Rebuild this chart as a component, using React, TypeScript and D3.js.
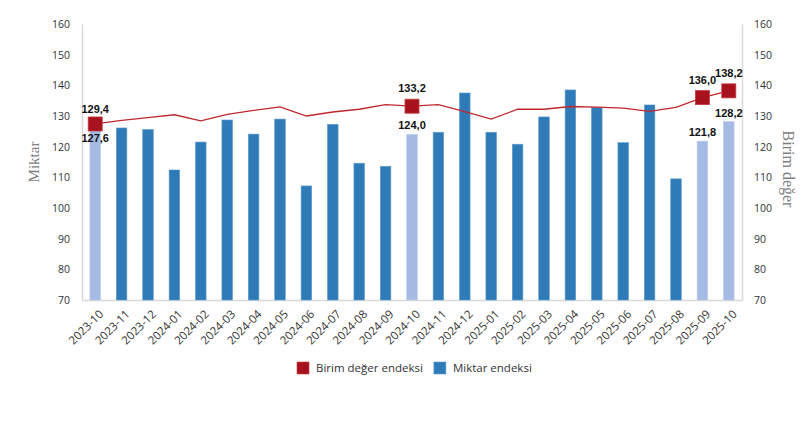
import React, { useEffect, useRef } from "react";
import * as d3 from "d3";

// aylar
const months = [
  "2023-10", "2023-11", "2023-12", "2024-01", "2024-02", "2024-03", "2024-04",
  "2024-05", "2024-06", "2024-07", "2024-08", "2024-09", "2024-10", "2024-11",
  "2024-12", "2025-01", "2025-02", "2025-03", "2025-04", "2025-05", "2025-06",
  "2025-07", "2025-08", "2025-09", "2025-10",
];

// Miktar endeksi (bars, left axis)
const miktar = [
  127.6, 126.1, 125.6, 112.4, 121.5, 128.7, 124.1, 129.0, 107.2, 127.3, 114.6,
  113.6, 124.0, 124.7, 137.5, 124.7, 120.8, 129.7, 138.5, 132.8, 121.3, 133.6,
  109.5, 121.8, 128.2,
];

// Birim değer endeksi (line, right axis)
const birimDeger = [
  127.4, 128.6, 129.5, 130.4, 128.4, 130.5, 131.8, 133.0, 130.0, 131.3, 132.2,
  133.7, 133.2, 133.7, 131.4, 129.0, 132.2, 132.2, 133.1, 132.9, 132.6, 131.5,
  132.8, 136.0, 138.2,
];

// highlighted months (light bars, markers, labels)
const highlighted = ["2023-10", "2024-10", "2025-09", "2025-10"];
const birimLabels = ["129,4", "133,2", "136,0", "138,2"];
const miktarLabels = ["127,6", "124,0", "121,8", "128,2"];

const yTicks = [70, 80, 90, 100, 110, 120, 130, 140, 150, 160];

const W = 807;
const H = 425;
const margin = { top: 24, right: 65, bottom: 125, left: 82 };

const sans = "'Open Sans', sans-serif";

export default function App() {
  const ref = useRef<SVGSVGElement>(null);

  useEffect(() => {
    const svg = d3.select(ref.current);
    svg.selectAll("*").remove();

    const x = d3
      .scaleBand()
      .domain(months)
      .range([margin.left, W - margin.right])
      .paddingInner(0.6)
      .paddingOuter(0.3);

    const yL = d3.scaleLinear().domain([70, 160]).range([H - margin.bottom, margin.top]);
    const yR = d3.scaleLinear().domain([70, 160]).range([H - margin.bottom, margin.top]);

    const g = svg.append("g");

    // axes
    const left = g
      .append("g")
      .attr("transform", `translate(${margin.left},0)`)
      .call(d3.axisLeft(yL).tickValues(yTicks).tickSize(0).tickPadding(12));
    const right = g
      .append("g")
      .attr("transform", `translate(${W - margin.right},0)`)
      .call(d3.axisRight(yR).tickValues(yTicks).tickSize(0).tickPadding(12));
    const bottom = g
      .append("g")
      .attr("transform", `translate(0,${H - margin.bottom})`)
      .call(d3.axisBottom(x).tickSize(0).tickSizeOuter(0).tickPadding(0));

    [left, right, bottom].forEach((a) => {
      a.select(".domain").attr("stroke", "#d9d9d9").attr("stroke-width", 1.5);
      a.selectAll("text")
        .attr("font-family", sans)
        .attr("font-size", 10.5)
        .attr("fill", "#333");
    });

    bottom
      .selectAll("text")
      .attr("font-size", 11.5)
      .attr("text-anchor", "end")
      .attr("dy", "0.35em")
      .attr("transform", "translate(6,12) rotate(-45)");

    // bars
    g.append("g")
      .selectAll("rect")
      .data(months)
      .join("rect")
      .attr("x", (d) => x(d)!)
      .attr("width", x.bandwidth())
      .attr("y", (d, i) => yL(miktar[i]))
      .attr("height", (d, i) => yL(70) - yL(miktar[i]))
      .attr("fill", (d) => (highlighted.includes(d) ? "#a5bbe4" : "#2f7bb8"))
      .attr("stroke", (d) => (highlighted.includes(d) ? "#b9cbed" : "#5d9bd0"))
      .attr("stroke-width", 0.6);

    // line
    const line = d3
      .line<number>()
      .x((d, i) => x(months[i])! + x.bandwidth() / 2)
      .y((d) => yR(d));

    g.append("path")
      .datum(birimDeger)
      .attr("d", line)
      .attr("fill", "none")
      .attr("stroke", "#c0272d")
      .attr("stroke-width", 1.3);

    // markers
    const ms = 14;
    g.append("g")
      .selectAll("rect")
      .data(highlighted)
      .join("rect")
      .attr("x", (d) => x(d)! + x.bandwidth() / 2 - ms / 2)
      .attr("y", (d) => yR(birimDeger[months.indexOf(d)]) - ms / 2)
      .attr("width", ms)
      .attr("height", ms)
      .attr("fill", "#a8121c")
      .attr("stroke", "#c23a41")
      .attr("stroke-width", 0.8);

    // data labels
    const lbl = g
      .append("g")
      .attr("font-family", "'Liberation Sans', Arial, sans-serif")
      .attr("font-weight", "bold")
      .attr("font-size", 11)
      .attr("fill", "#111")
      .attr("text-anchor", "middle");

    highlighted.forEach((m, k) => {
      const i = months.indexOf(m);
      const cx = x(m)! + x.bandwidth() / 2;
      const py = yR(birimDeger[i]);
      const by = yL(miktar[i]);
      lbl
        .append("text")
        .attr("x", cx)
        .attr("y", k === 0 ? py - 11 : py - 14)
        .text(birimLabels[k]);
      lbl
        .append("text")
        .attr("x", cx)
        .attr("y", k === 0 ? by + 19 : by - 5)
        .text(miktarLabels[k]);
    });

    // axis titles
    const midY = (margin.top + H - margin.bottom) / 2;
    g.append("text")
      .attr("transform", `translate(39,${midY}) rotate(-90)`)
      .attr("text-anchor", "middle")
      .attr("font-family", "'Liberation Serif', serif")
      .attr("font-size", 15)
      .attr("fill", "#808080")
      .text("Miktar");
    g.append("text")
      .attr("transform", `translate(783,${midY + 7}) rotate(90)`)
      .attr("text-anchor", "middle")
      .attr("font-family", "'Liberation Serif', serif")
      .attr("font-size", 16)
      .attr("fill", "#808080")
      .text("Birim değer");

    // legend
    const legendItems = [
      { name: "Birim değer endeksi", color: "#a8121c", stroke: "#c23a41" },
      { name: "Miktar endeksi", color: "#2f7bb8", stroke: "#5d9bd0" },
    ];
    const leg = g.append("g").attr("transform", "translate(297,362)");
    let off = 0;
    legendItems.forEach((it) => {
      const item = leg.append("g").attr("transform", `translate(${off},0)`);
      item
        .append("rect")
        .attr("width", 12)
        .attr("height", 12)
        .attr("fill", it.color)
        .attr("stroke", it.stroke)
        .attr("stroke-width", 0.6);
      const t = item
        .append("text")
        .attr("x", 19)
        .attr("y", 10)
        .attr("font-family", sans)
        .attr("font-size", 11.5)
        .attr("fill", "#333")
        .text(it.name);
      const w = (t.node() as SVGTextElement).getComputedTextLength();
      off += 19 + w + 11;
    });
  }, []);

  return (
    <div style={{ position: "absolute", left: 0, top: 0 }}>
      <svg ref={ref} width={W} height={H} style={{ display: "block", background: "#fff" }} />
    </div>
  );
}
